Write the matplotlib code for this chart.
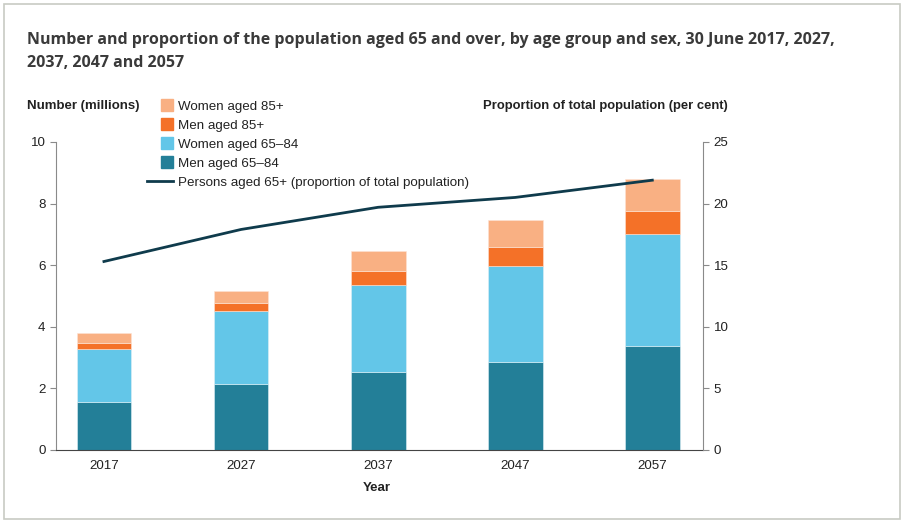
import numpy as np
import matplotlib
matplotlib.use('Agg')
import matplotlib.pyplot as plt
from matplotlib.patches import Rectangle, Patch
from matplotlib.legend_handler import HandlerPatch

plt.rcParams['font.family'] = ['Liberation Sans', 'DejaVu Sans']

years = ['2017', '2027', '2037', '2047', '2057']
men_65_84 = [1.56, 2.13, 2.53, 2.85, 3.38]
women_65_84 = [1.72, 2.37, 2.84, 3.13, 3.62]
men_85 = [0.19, 0.27, 0.44, 0.61, 0.76]
women_85 = [0.33, 0.39, 0.64, 0.87, 1.04]
persons_65_prop = [15.3, 17.9, 19.7, 20.5, 21.9]

c_men6584 = '#237f98'
c_wom6584 = '#63c6e8'
c_men85 = '#f47128'
c_wom85 = '#f9b083'
c_line = '#0f3b4c'
txt = '#222222'
fs = 9.6


def square_patch(legend, orig_handle, xdescent, ydescent, width, height, fontsize):
    # small square at the right end of the handle box
    s = height * 1.25
    return Rectangle((-xdescent + width - s, -ydescent - (s - height) / 2), s, s)


fig = plt.figure(figsize=(9.04, 5.23), dpi=100)
fig.patches.append(Rectangle((0.004, 0.008), 0.992, 0.984, transform=fig.transFigure,
                             fill=False, edgecolor='#c8cbc4', linewidth=1.2))

ax = fig.add_axes([0.0619, 0.1396, 0.7158, 0.5889])
x = np.arange(len(years))
w = 0.4
b1 = np.array(men_65_84)
b2 = b1 + np.array(women_65_84)
b3 = b2 + np.array(men_85)
ax.bar(x, men_65_84, w, color=c_men6584, edgecolor='#dff0f5', linewidth=0.4)
ax.bar(x, women_65_84, w, bottom=b1, color=c_wom6584, edgecolor='#dff0f5', linewidth=0.4)
ax.bar(x, men_85, w, bottom=b2, color=c_men85, edgecolor='#fde3d4', linewidth=0.4)
ax.bar(x, women_85, w, bottom=b3, color=c_wom85, edgecolor='#fde3d4', linewidth=0.4)

ax.set_xlim(-0.35, 4.37)
ax.set_ylim(0, 10)
ax.set_yticks([0, 2, 4, 6, 8, 10])
ax.set_xticks(x)
ax.set_xticklabels(years)
for s in ['top', 'right']:
    ax.spines[s].set_visible(False)
ax.spines['left'].set_color('#8a8a8a')
ax.spines['bottom'].set_color('#444444')
ax.tick_params(axis='y', colors='#8a8a8a', labelcolor=txt, labelsize=fs, length=4)
ax.tick_params(axis='x', length=0, labelsize=fs, labelcolor=txt, pad=7)

ax2 = ax.twinx()
line, = ax2.plot(x, persons_65_prop, color=c_line, linewidth=2)
ax2.set_ylim(0, 25)
ax2.set_yticks([0, 5, 10, 15, 20, 25])
for s in ['top', 'left', 'bottom']:
    ax2.spines[s].set_visible(False)
ax2.spines['right'].set_color('#8a8a8a')
ax2.tick_params(axis='y', colors='#8a8a8a', labelcolor=txt, labelsize=fs, length=4)

patches = [Patch(color=c_wom85), Patch(color=c_men85), Patch(color=c_wom6584), Patch(color=c_men6584)]
labels = ['Women aged 85+', 'Men aged 85+', 'Women aged 65\u201384', 'Men aged 65\u201384',
          'Persons aged 65+ (proportion of total population)']
hmap = {p: HandlerPatch(patch_func=square_patch) for p in patches}
leg = fig.legend(patches + [line], labels, loc='upper left', bbox_to_anchor=(0.1626, 0.808),
                 frameon=False, fontsize=fs, handlelength=1.95, handleheight=0.7,
                 handletextpad=0.38, labelspacing=0.5, borderpad=0, borderaxespad=0,
                 handler_map=hmap)
for t in leg.get_texts():
    t.set_color(txt)

fig.text(0.030, 0.924, 'Number and proportion of the population aged 65 and over, by age group and sex, 30 June 2017, 2027,',
         fontsize=11.5, fontweight='bold', color='#3a3a3a', va='center', family='Open Sans')
fig.text(0.030, 0.879, '2037, 2047 and 2057',
         fontsize=11.5, fontweight='bold', color='#3a3a3a', va='center', family='Open Sans')
fig.text(0.030, 0.797, 'Number (millions)', fontsize=9.5, fontweight='bold', color=txt, va='center')
fig.text(0.805, 0.797, 'Proportion of total population (per cent)', fontsize=9.4, fontweight='bold',
         color=txt, va='center', ha='right')
fig.text(0.417, 0.067, 'Year', fontsize=9.5, fontweight='bold', color=txt, va='center', ha='center')

fig.savefig('out.png', dpi=100)
